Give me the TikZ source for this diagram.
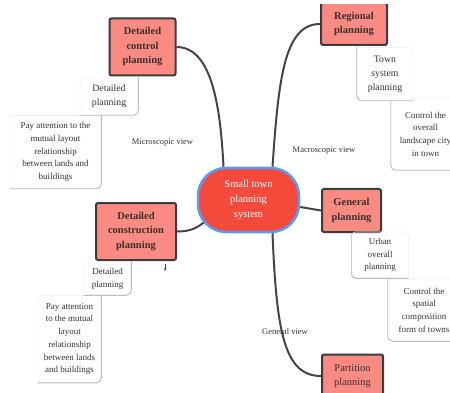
\documentclass[tikz,border=0pt]{standalone}
\usepackage{fontspec}
\setmainfont{Liberation Serif}
\usetikzlibrary{backgrounds,arrows.meta}
\definecolor{salmon}{HTML}{FA8A82}
\definecolor{bord}{HTML}{3C3C3C}
\definecolor{ctrred}{HTML}{F44A3C}
\definecolor{ctrblue}{HTML}{5B9CF0}
\definecolor{conn}{HTML}{444444}
\definecolor{treeg}{HTML}{BDBDBD}
\definecolor{faint}{HTML}{F0F0F0}
\definecolor{txt}{HTML}{3A3030}
\begin{document}
\begin{tikzpicture}[x=1pt,y=-1pt,
  mainbox/.style={draw=bord, line width=2pt, fill=salmon, rounded corners=2pt,
    align=center, inner sep=0pt, text=txt,
    font=\fontsize{10.5}{14.5}\selectfont\bfseries},
  plainbox/.style={mainbox, font=\fontsize{10.5}{14.5}\selectfont},
  centrebox/.style={draw=ctrblue, line width=2.5pt, fill=ctrred, rounded corners=28pt,
    align=center, inner sep=0pt, text=white,
    font=\fontsize{10.5}{15}\selectfont},
  subbox/.style={draw=faint, line width=0.6pt, rounded corners=4pt, align=center,
    inner sep=0pt, text=txt, font=\fontsize{9}{12.7}\selectfont},
  bigsub/.style={subbox, font=\fontsize{9.8}{14}\selectfont},
  treeline/.style={draw=treeg, line width=0.9pt, rounded corners=5pt},
  connector/.style={draw=conn, line width=2pt},
  viewlabel/.style={inner sep=0pt, text=txt, font=\fontsize{8.5}{10}\selectfont}
]
\useasboundingbox (0,0) rectangle (450,393);
\clip (0,5) rectangle (450,393);

% main nodes
\node[centrebox, minimum width=101pt, minimum height=64pt] (ctr) at (248.5,200)
  {Small town\\planning\\system};
\node[mainbox, minimum width=66pt, minimum height=57pt] (dcp) at (142.5,47)
  {Detailed\\control\\planning};
\node[mainbox, minimum width=66pt, minimum height=42pt] (rp) at (354,24)
  {Regional\\planning};
\node[mainbox, minimum width=59pt, minimum height=43pt] (gp) at (351.5,210.5)
  {General\\planning};
\node[plainbox, minimum width=61pt, minimum height=43pt] (pp) at (352.5,376)
  {Partition\\planning};
\node[mainbox, minimum width=80pt, minimum height=57pt] (dcop) at (136,231.5)
  {Detailed\\construction\\planning};

% sub nodes
\node[bigsub, minimum width=58pt, minimum height=37pt] (s1) at (109,96.5)
  {Detailed\\planning};
\node[subbox, minimum width=91pt, minimum height=73pt] (s2) at (55.5,152)
  {Pay attention to the\\mutual layout\\relationship\\between lands and\\buildings};
\node[subbox, minimum width=47pt, minimum height=32pt] (s3) at (107.5,279)
  {Detailed\\planning};
\node[subbox, minimum width=63pt, minimum height=87pt] (s4) at (69.5,339)
  {Pay attention\\to the mutual\\layout\\relationship\\between lands\\and buildings};
\node[bigsub, minimum width=56pt, minimum height=53pt] (s5) at (385,74)
  {Town\\system\\planning};
\node[subbox, minimum width=69pt, minimum height=72pt] (s6) at (425.5,134)
  {Control the\\overall\\landscape city\\in town};
\node[subbox, minimum width=57pt, minimum height=46pt] (s7) at (380,255)
  {Urban\\overall\\planning};
\node[subbox, minimum width=72pt, minimum height=62pt] (s8) at (424,310)
  {Control the\\spatial\\composition\\form of towns};

% view labels
\node[viewlabel] (lmicro) at (162.5,143) {Microscopic view};
\node[viewlabel] (lmacro) at (324,151) {Macroscopic view};
\node[viewlabel] (lgen) at (285,332) {General view};

% tree lines
\draw[treeline] (dcp.south -| s1.east) -- (s1.south east) -- (s1.south west);
\draw[treeline] (s1.south -| s2.east) -- (s2.south east) -- (s2.south west);
\draw[treeline] (dcop.south -| s3.east) -- (s3.south east) -- (s3.south west);
\draw[treeline] (s3.south -| s4.east) -- (s4.south east) -- (s4.south west);
\draw[treeline] (rp.south -| s5.west) -- (s5.south west) -- (s5.south east);
\draw[treeline] (s5.south -| s6.west) -- (s6.south west) -- (s6.south east);
\draw[treeline] (gp.south -| s7.west) -- (s7.south west) -- (s7.south east);
\draw[treeline] (s7.south -| s8.west) -- (s8.south west) -- (s8.south east);

% small mark
\draw[-{Stealth[length=2.5pt,width=2.2pt]}, line width=0.5pt, black!75]
  (165,264) -- (165,271);

% connectors
\begin{pgfonlayer}{background}
\draw[connector] (dcp.east) .. controls +(36,0) and +(-3,-58) .. ([xshift=-25pt]ctr.north);
\draw[connector] ([xshift=24pt]ctr.north) .. controls +(6,-87) and +(-36,0) .. (rp.west);
\draw[connector] ([yshift=-7pt]ctr.east) -- (gp.west);
\draw[connector] ([xshift=24pt]ctr.south) .. controls +(4,98) and +(-37,0) .. (pp.west);
\draw[connector] (dcop.east) .. controls +(14,0) and +(-8,6) .. ([xshift=-44pt,yshift=-22pt]ctr.center);
\end{pgfonlayer}
\end{tikzpicture}
\end{document}
